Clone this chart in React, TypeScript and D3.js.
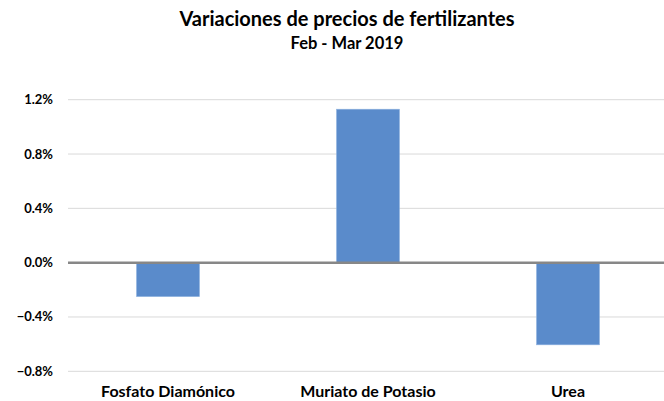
import React, { useEffect, useRef } from "react";
import * as d3 from "d3";

const categories = ["Fosfato Diamónico", "Muriato de Potasio", "Urea"];
const values = [-0.25, 1.13, -0.605];
const yTicks = [-0.8, -0.4, 0, 0.4, 0.8, 1.2];
const title = "Variaciones de precios de fertilizantes";
const subtitle = "Feb - Mar 2019";

export default function App() {
  const svgRef = useRef<SVGSVGElement>(null);

  useEffect(() => {
    const width = 664;
    const svg = d3.select(svgRef.current);
    svg.selectAll("*").remove();

    const font = "Lato, 'Open Sans', sans-serif";

    const x = d3
      .scaleBand()
      .domain(categories)
      .range([68, 668])
      .paddingInner(0.685)
      .paddingOuter(0.3425);

    const y = d3.scaleLinear().domain([-0.8, 1.2]).range([371.3, 99.7]);

    // gridlines
    svg
      .append("g")
      .selectAll("line")
      .data(yTicks.filter((d) => d !== 0))
      .enter()
      .append("line")
      .attr("x1", 68)
      .attr("x2", width)
      .attr("y1", (d) => y(d))
      .attr("y2", (d) => y(d))
      .attr("stroke", "#d9d9d9")
      .attr("stroke-width", 1);

    // tick labels
    svg
      .append("g")
      .selectAll("text")
      .data(yTicks)
      .enter()
      .append("text")
      .attr("x", 53)
      .attr("y", (d) => y(d) + 4.5)
      .attr("text-anchor", "end")
      .style("font-family", font)
      .style("font-weight", "bold")
      .style("font-size", "13px")
      .attr("fill", "#000")
      .text((d) => d3.format(".1f")(d) + "%");

    // bars
    svg
      .append("g")
      .selectAll("rect")
      .data(values)
      .enter()
      .append("rect")
      .attr("x", (d, i) => x(categories[i])!)
      .attr("y", (d) => y(Math.max(0, d)))
      .attr("width", x.bandwidth())
      .attr("height", (d) => Math.abs(y(d) - y(0)))
      .attr("fill", "#5a8bcb")
      .attr("stroke", "#8fb3e0")
      .attr("stroke-width", 0.6);

    // zero line
    svg
      .append("line")
      .attr("x1", 68)
      .attr("x2", width)
      .attr("y1", y(0))
      .attr("y2", y(0))
      .attr("stroke", "#878787")
      .attr("stroke-width", 2.5);

    // category labels
    svg
      .append("g")
      .selectAll("text")
      .data(categories)
      .enter()
      .append("text")
      .attr("x", (d) => x(d)! + x.bandwidth() / 2)
      .attr("y", 397)
      .attr("text-anchor", "middle")
      .style("font-family", font)
      .style("font-weight", "bold")
      .style("font-size", "16px")
      .attr("fill", "#000")
      .text((d) => d);

    // titles
    svg
      .append("text")
      .attr("x", 347)
      .attr("y", 26)
      .attr("text-anchor", "middle")
      .style("font-family", font)
      .style("font-weight", "bold")
      .style("font-size", "20px")
      .text(title);

    svg
      .append("text")
      .attr("x", 347)
      .attr("y", 49)
      .attr("text-anchor", "middle")
      .style("font-family", font)
      .style("font-weight", "bold")
      .style("font-size", "16.5px")
      .text(subtitle);
  }, []);

  return (
    <svg
      ref={svgRef}
      width={664}
      height={401}
      style={{ position: "absolute", left: 0, top: 0, background: "#fff" }}
    ></svg>
  );
}
